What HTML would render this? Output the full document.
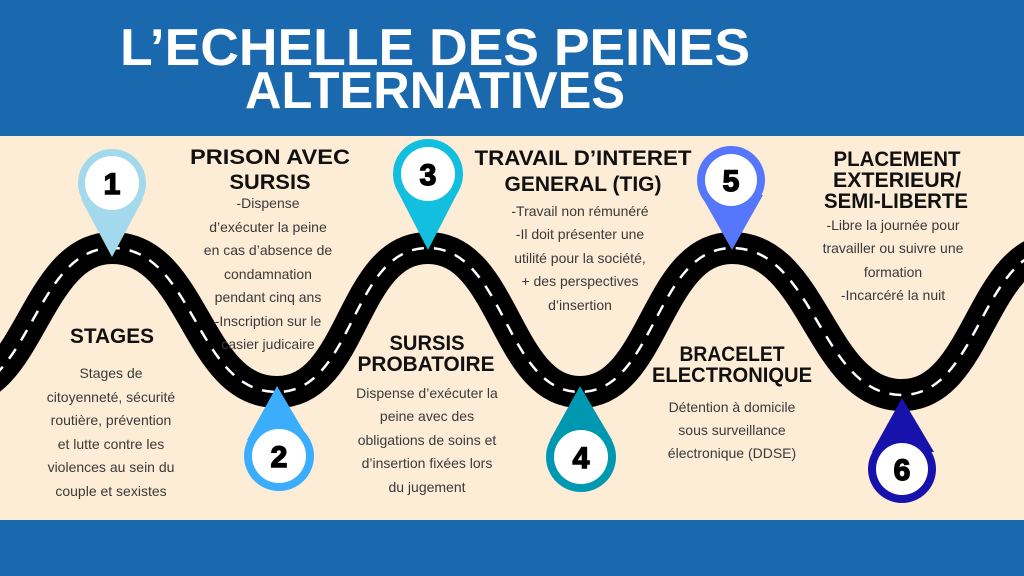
<!DOCTYPE html>
<html><head><meta charset="utf-8"><style>
html,body{margin:0;padding:0;background:#fdecd6;}
svg{display:block}
.b{font-family:"Liberation Sans",sans-serif;font-size:14px;fill:#3a3a3a;text-anchor:middle}
.h{font-family:"Liberation Sans",sans-serif;font-weight:bold;font-size:21px;fill:#111;text-anchor:middle}
.n{font-family:"Liberation Sans",sans-serif;font-weight:900;font-size:30px;fill:#000;text-anchor:middle;stroke:#000;stroke-width:1.5}
</style></head><body>
<svg width="1024" height="576" viewBox="0 0 1024 576" xmlns="http://www.w3.org/2000/svg">
<rect x="0" y="0" width="1024" height="576" fill="#fdecd6"/>
<rect x="0" y="0" width="1024" height="136" fill="#1a68ad"/>
<rect x="0" y="520" width="1024" height="56" fill="#1a68ad"/>
<g font-family="Liberation Sans, sans-serif" font-weight="bold" font-size="52" fill="#fff" text-anchor="middle">
<text x="435" y="65" textLength="630" lengthAdjust="spacingAndGlyphs">L’ECHELLE DES PEINES</text>
<text x="435" y="108" textLength="380" lengthAdjust="spacingAndGlyphs">ALTERNATIVES</text>
</g>
<path d="M -45 392 C 30 392, 35 248, 112 248 C 195 248, 195 392, 277 392 C 355 392, 350 248, 428 248 C 505 248, 505 392, 580 392 C 655 392, 655 248, 732 248 C 815 248, 820 395, 902 395 C 980 395, 980 248, 1060 248" fill="none" stroke="#000" stroke-width="32"/>
<path d="M -45 392 C 30 392, 35 248, 112 248 C 195 248, 195 392, 277 392 C 355 392, 350 248, 428 248 C 505 248, 505 392, 580 392 C 655 392, 655 248, 732 248 C 815 248, 820 395, 902 395 C 980 395, 980 248, 1060 248" fill="none" stroke="#fff" stroke-width="2.5" stroke-dasharray="12 10"/>
<g><path d="M112 257 L81 199 L143 199 Z" fill="#a3d9ec"/><circle cx="112" cy="183" r="34" fill="#a3d9ec"/><circle cx="112" cy="183" r="27" fill="#fff"/><text class="n" x="112" y="194">1</text></g>
<g><path d="M428 250 L397 190 L459 190 Z" fill="#12bfdf"/><circle cx="428" cy="174" r="35" fill="#12bfdf"/><circle cx="428" cy="174" r="27" fill="#fff"/><text class="n" x="428" y="185">3</text></g>
<g><path d="M732 250 L701 195 L763 195 Z" fill="#5677fb"/><circle cx="731" cy="180" r="34" fill="#5677fb"/><circle cx="731" cy="180" r="26" fill="#fff"/><text class="n" x="731" y="191">5</text></g>
<g><path d="M277 386 L247 440 L309 440 Z" fill="#3aaefc"/><circle cx="279" cy="456" r="35" fill="#3aaefc"/><circle cx="279" cy="456" r="27" fill="#fff"/><text class="n" x="279" y="467">2</text></g>
<g><path d="M580 386 L550 440 L612 440 Z" fill="#0098b1"/><circle cx="581" cy="457" r="35" fill="#0098b1"/><circle cx="581" cy="457" r="27" fill="#fff"/><text class="n" x="581" y="468">4</text></g>
<g><path d="M902 398 L872 452 L934 452 Z" fill="#1812ad"/><circle cx="902" cy="469" r="34" fill="#1812ad"/><circle cx="902" cy="469" r="26" fill="#fff"/><text class="n" x="902" y="480">6</text></g>
<text class="h" x="270" y="164" textLength="160" lengthAdjust="spacingAndGlyphs">PRISON AVEC</text>
<text class="h" x="270" y="189" textLength="81" lengthAdjust="spacingAndGlyphs">SURSIS</text>
<text class="h" x="112" y="343" textLength="84" lengthAdjust="spacingAndGlyphs">STAGES</text>
<text class="h" x="427" y="350" textLength="75" lengthAdjust="spacingAndGlyphs">SURSIS</text>
<text class="h" x="426" y="371" textLength="137" lengthAdjust="spacingAndGlyphs">PROBATOIRE</text>
<text class="h" x="583" y="165" textLength="217" lengthAdjust="spacingAndGlyphs">TRAVAIL D’INTERET</text>
<text class="h" x="583" y="191" textLength="157" lengthAdjust="spacingAndGlyphs">GENERAL (TIG)</text>
<text class="h" x="897" y="166" textLength="127" lengthAdjust="spacingAndGlyphs">PLACEMENT</text>
<text class="h" x="897" y="187" textLength="128" lengthAdjust="spacingAndGlyphs">EXTERIEUR/</text>
<text class="h" x="896" y="208" textLength="144" lengthAdjust="spacingAndGlyphs">SEMI-LIBERTE</text>
<text class="h" x="732" y="361" textLength="105" lengthAdjust="spacingAndGlyphs">BRACELET</text>
<text class="h" x="732" y="382" textLength="160" lengthAdjust="spacingAndGlyphs">ELECTRONIQUE</text>
<g class="b">
<text class="b" x="268" y="208">-Dispense</text>
<text class="b" x="268" y="232">d’exécuter la peine</text>
<text class="b" x="268" y="255">en cas d’absence de</text>
<text class="b" x="268" y="279">condamnation</text>
<text class="b" x="268" y="302">pendant cinq ans</text>
<text class="b" x="268" y="326">-Inscription sur le</text>
<text class="b" x="268" y="349">casier judicaire</text>
<text class="b" x="111" y="378">Stages de</text>
<text class="b" x="111" y="402">citoyenneté, sécurité</text>
<text class="b" x="111" y="425">routière, prévention</text>
<text class="b" x="111" y="449">et lutte contre les</text>
<text class="b" x="111" y="472">violences au sein du</text>
<text class="b" x="111" y="496">couple et sexistes</text>
<text class="b" x="427" y="398">Dispense d’exécuter la</text>
<text class="b" x="427" y="421">peine avec des</text>
<text class="b" x="427" y="445">obligations de soins et</text>
<text class="b" x="427" y="468">d’insertion fixées lors</text>
<text class="b" x="427" y="492">du jugement</text>
<text class="b" x="580" y="216">-Travail non rémunéré</text>
<text class="b" x="580" y="239">-Il doit présenter une</text>
<text class="b" x="580" y="263">utilité pour la société,</text>
<text class="b" x="580" y="286">+ des perspectives</text>
<text class="b" x="580" y="310">d’insertion</text>
<text class="b" x="893" y="230">-Libre la journée pour</text>
<text class="b" x="893" y="253">travailler ou suivre une</text>
<text class="b" x="893" y="277">formation</text>
<text class="b" x="893" y="300">-Incarcéré la nuit</text>
<text class="b" x="732" y="412">Détention à domicile</text>
<text class="b" x="732" y="435">sous surveillance</text>
<text class="b" x="732" y="458">électronique  (DDSE)</text>
</g>
</svg>
</body></html>
